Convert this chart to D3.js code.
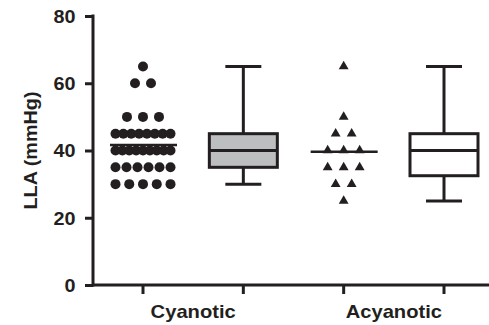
<!DOCTYPE html>
<html>
<head>
<meta charset="utf-8">
<script src="https://cdn.jsdelivr.net/npm/d3@7"></script>
<style>
  html, body { margin: 0; padding: 0; background: #fff; }
  svg { display: block; }
  text { font-family: "Liberation Sans", Arial, Helvetica, sans-serif; font-weight: bold; fill: #231f20; }
</style>
</head>
<body>
<svg id="chart" width="489" height="325"></svg>
<script>
// LLA values (mmHg) per patient group
const groups = ["Cyanotic", "Acyanotic"];
const cyanotic = [65, 60, 60, 50, 50, 50,
  45, 45, 45, 45, 45, 45, 45, 45,
  40, 40, 40, 40, 40, 40, 40, 40, 40,
  35, 35, 35, 35, 35, 35,
  30, 30, 30, 30, 30];
const acyanotic = [65, 50, 45, 45, 40, 40, 40, 35, 35, 35, 30, 30, 25];
const yTicks = [0, 20, 40, 60, 80];
const yLabel = "LLA (mmHg)";

// Column slots: scatter then box for each group
const columns = ["cyan-dots", "cyan-box", "acyan-dots", "acyan-box"];

const ink = "#231f20";
const boxFills = ["#bdbec0", "#ffffff"];
const fontSize = "18px";
const widen = 1.1; // wide bold face

const svg = d3.select("#chart");

const y = d3.scaleLinear().domain([0, 80]).range([285, 16]);
const x = d3.scalePoint().domain(columns).range([143, 444]);
const axisX = 93;

// Quartiles at rank (n+1)p, interpolated
function quant(sorted, p) {
  const n = sorted.length;
  const pos = (n + 1) * p;
  const lo = Math.floor(pos), hi = Math.ceil(pos);
  const a = sorted[Math.max(0, Math.min(n - 1, lo - 1))];
  const b = sorted[Math.max(0, Math.min(n - 1, hi - 1))];
  return a + (b - a) * (pos - lo);
}
function boxStats(vals) {
  const s = vals.slice().sort(d3.ascending);
  return { min: s[0], q1: quant(s, 0.25), med: quant(s, 0.5), q3: quant(s, 0.75), max: s[s.length - 1] };
}

// Spread points of equal value side by side around the column centre
function layoutRows(vals, cx) {
  const byVal = d3.group(vals, v => v);
  const pts = [];
  for (const [v, arr] of byVal) {
    const n = arr.length;
    const step = n > 1 ? Math.min(16, 55 / (n - 1)) : 0;
    arr.forEach((_, i) => pts.push({ v, x: cx + (i - (n - 1) / 2) * step }));
  }
  return pts;
}

// Axes
const yAxis = d3.axisLeft(y).tickValues(yTicks).tickSize(8).tickPadding(0).tickFormat(d3.format("d"));
const gy = svg.append("g").attr("transform", `translate(${axisX},0)`).call(yAxis);
gy.select(".domain").remove();
gy.append("line").attr("x1", 0).attr("x2", 0).attr("y1", y(80) - 1.5).attr("y2", y(0) + 1.5)
  .attr("stroke", ink).attr("stroke-width", 3);
gy.selectAll(".tick line").attr("stroke", ink).attr("stroke-width", 3);
gy.selectAll(".tick text").attr("fill", ink).style("font-size", fontSize)
  .attr("x", -17.5 / widen).attr("dy", "0.36em")
  .attr("transform", `scale(${widen},1)`);

const gx = svg.append("g").attr("transform", `translate(0,${y(0)})`);
gx.append("line").attr("x1", axisX).attr("x2", 489).attr("y1", 0).attr("y2", 0)
  .attr("stroke", ink).attr("stroke-width", 3);
gx.selectAll("line.tk").data(columns).join("line").attr("class", "tk")
  .attr("x1", d => x(d)).attr("x2", d => x(d)).attr("y1", 0).attr("y2", 9)
  .attr("stroke", ink).attr("stroke-width", 3);
gx.selectAll("text.grp").data(groups).join("text").attr("class", "grp")
  .attr("transform", (d, i) => `translate(${(x(columns[2 * i]) + x(columns[2 * i + 1])) / 2},33) scale(${widen + 0.02},1)`)
  .attr("text-anchor", "middle")
  .style("font-size", fontSize)
  .text(d => d);

svg.append("text")
  .attr("transform", `translate(37,${(y(0) + y(80)) / 2}) rotate(-90) scale(${widen},1)`)
  .attr("text-anchor", "middle")
  .style("font-size", fontSize)
  .text(yLabel);

// Scatter columns with mean lines
const cyanPts = layoutRows(cyanotic, x("cyan-dots"));
svg.append("g").selectAll("circle").data(cyanPts).join("circle")
  .attr("cx", d => d.x).attr("cy", d => y(d.v)).attr("r", 5).attr("fill", ink);

const acyPts = layoutRows(acyanotic, x("acyan-dots"));
const tri = d3.symbol().type(d3.symbolTriangle).size(42);
svg.append("g").selectAll("path").data(acyPts).join("path")
  .attr("d", tri).attr("transform", d => `translate(${d.x},${y(d.v)})`).attr("fill", ink);

[[cyanotic, "cyan-dots"], [acyanotic, "acyan-dots"]].forEach(([vals, col]) => {
  const m = d3.mean(vals);
  svg.append("line").attr("x1", x(col) - 33).attr("x2", x(col) + 34)
    .attr("y1", y(m)).attr("y2", y(m)).attr("stroke", ink).attr("stroke-width", 2.5);
});

// Box-and-whisker columns
[[cyanotic, "cyan-box", boxFills[0]], [acyanotic, "acyan-box", boxFills[1]]].forEach(([vals, col, fill]) => {
  const s = boxStats(vals);
  const cx = x(col), bw = 68, cw = 36;
  const g = svg.append("g").attr("stroke", ink).attr("stroke-width", 3);
  g.append("line").attr("x1", cx).attr("x2", cx).attr("y1", y(s.max)).attr("y2", y(s.q3));
  g.append("line").attr("x1", cx).attr("x2", cx).attr("y1", y(s.q1)).attr("y2", y(s.min));
  g.append("line").attr("x1", cx - cw / 2).attr("x2", cx + cw / 2).attr("y1", y(s.max)).attr("y2", y(s.max));
  g.append("line").attr("x1", cx - cw / 2).attr("x2", cx + cw / 2).attr("y1", y(s.min)).attr("y2", y(s.min));
  g.append("rect").attr("x", cx - bw / 2).attr("width", bw)
    .attr("y", y(s.q3)).attr("height", y(s.q1) - y(s.q3)).attr("fill", fill);
  g.append("line").attr("x1", cx - bw / 2).attr("x2", cx + bw / 2).attr("y1", y(s.med)).attr("y2", y(s.med));
});
</script>
</body>
</html>
